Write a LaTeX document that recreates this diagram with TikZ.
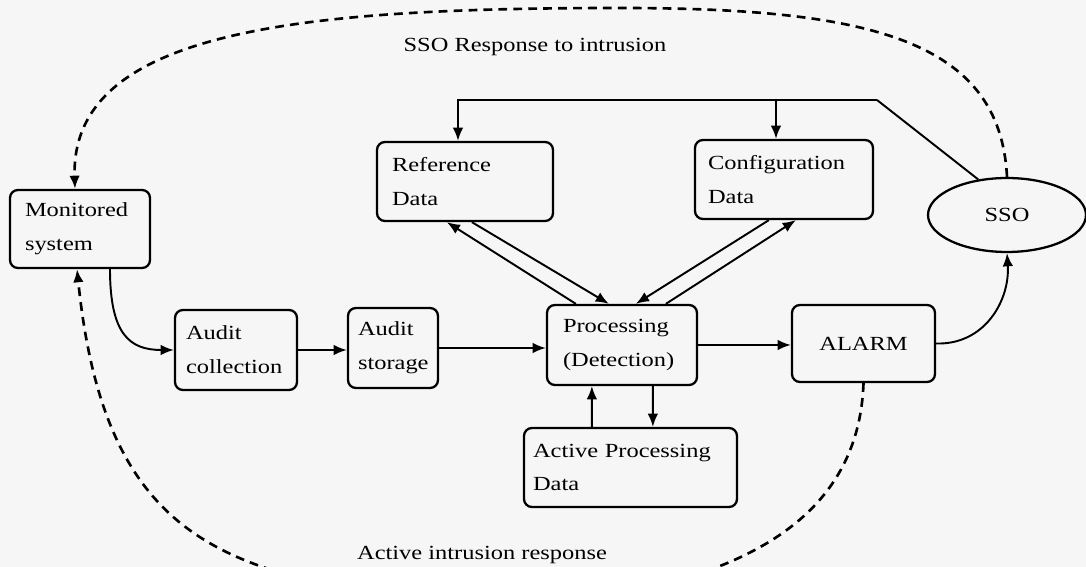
\documentclass[tikz,border=0pt]{standalone}
\usepackage{fontspec}
\setmainfont{Liberation Serif}[FakeStretch=1.22]
\usetikzlibrary{arrows.meta,calc,shapes.geometric}
\definecolor{paper}{rgb}{0.965,0.965,0.965}

\begin{document}
\begin{tikzpicture}[x=0.02cm,y=-0.02cm,
  font=\fontsize{11.4}{19.3}\selectfont,
  box/.style={draw, rounded corners=4.5pt, line width=1.3pt, align=left,
    minimum height=1.58cm, inner ysep=0pt},
  tip/.style={-{Latex[length=7.5pt,width=6pt]}},
  link/.style={line width=1.1pt, tip},
  plain/.style={line width=1.1pt},
  resp/.style={line width=1.5pt, dash pattern=on 5pt off 3.5pt},
]
\clip (0,0) rectangle (1086,567);
\fill[paper] (0,0) rectangle (1086,567);

% components
\node[box, inner xsep=0.3cm, text width=2.2cm, minimum height=1.56cm] (mon) at (80,229) {Monitored\\system};
\node[box, inner xsep=0.22cm, text width=2.0cm, minimum height=1.6cm] (ac) at (236,350) {Audit\\collection};
\node[box, inner xsep=0.2cm, text width=1.4cm, minimum height=1.6cm] (as) at (393,348) {Audit\\storage};
\node[box, inner xsep=0.32cm, text width=2.36cm, minimum height=1.6cm] (proc) at (622,345) {Processing\\(Detection)};
\node[box, align=center, inner xsep=0.2cm, text width=2.46cm, minimum height=1.54cm] (alarm) at (863.5,343.5) {ALARM};
\node[box, inner xsep=0.18cm, text width=3.9cm] (apd) at (630.5,467.5) {Active Processing\\Data};
\node[box, inner xsep=0.3cm, text width=2.92cm] (ref) at (465,181.5) {Reference\\Data};
\node[box, inner xsep=0.26cm, text width=3.04cm] (conf) at (784,179.5) {Configuration\\Data};
\node[draw, ellipse, line width=1.3pt, minimum width=3.16cm, minimum height=1.48cm, inner sep=0pt] (sso) at (1007,215) {SSO};

% labels of the two response loops
\node (lsso) at (535,47) {SSO Response to intrusion};
\node (lact) at (482,555) {Active intrusion response};

% main data flow
\draw[link] ($(mon.south)+(30,0)$) .. controls (110,335) and (130,350) .. (ac.west);
\draw[link] (ac.east) -- (as.west |- ac.east);
\draw[link] (as.east) -- (proc.west |- as.east);
\draw[link] (proc.east) -- (alarm.west |- proc.east);
\draw[link] (alarm.east) .. controls (985,345) and (1010,300) .. (sso.south);

% reference and configuration data exchange
\draw[link] ($(proc.north west)+(30,0)$) -- ($(ref.south west)+(71,0)$);
\draw[link] ($(ref.south west)+(96,0)$) -- ($(proc.north west)+(63,0)$);
\draw[link] ($(conf.south west)+(75,0)$) -- ($(proc.north west)+(90,0)$);
\draw[link] ($(proc.north west)+(120,0)$) -- ($(conf.south west)+(102,0)$);

% active processing data exchange
\draw[link] ($(apd.north west)+(69,0)$) -- ($(proc.south west)+(46,0)$);
\draw[link] ($(proc.south west)+(107,0)$) -- ($(apd.north west)+(130,0)$);

% SSO configuring the reference and configuration data
\coordinate (bend) at (877,100);
\coordinate (refin) at ($(ref.north)+(-7,0)$);
\coordinate (confin) at ($(conf.north)+(-8,0)$);
\draw[plain] (sso.129) -- (bend);
\draw[link] (bend) -| (refin);
\draw[link] (confin |- bend) -- (confin);

% response loops
\draw[resp, tip] (sso.north) .. controls (1000,40) and (870,8) .. (620,8)
  .. controls (300,8) and (70,30) .. ($(mon.north)+(-5,0)$);
\draw[resp, tip] (330,585) .. controls (185,555) and (100,495) .. ($(mon.south)+(-3,0)$);
\draw[resp] (alarm.south) .. controls (860,480) and (800,550) .. (660,585);
\end{tikzpicture}
\end{document}
